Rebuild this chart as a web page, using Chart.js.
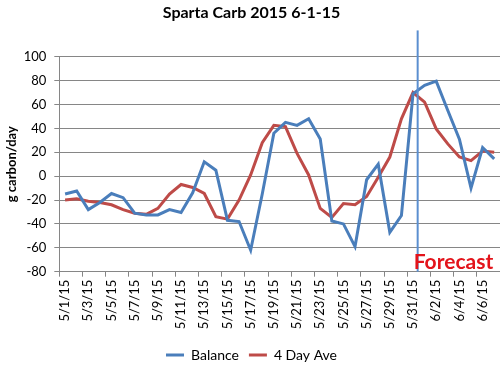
<!DOCTYPE html>
<html>
<head>
<meta charset="utf-8">
<script src="https://cdn.jsdelivr.net/npm/chart.js@4/dist/chart.umd.min.js"></script>
<style>
    body { margin: 0; background: #fff; }
    canvas { display: block; }
</style>
</head>
<body>
<canvas id="lineChart" width="500" height="370"></canvas>
<script>

    var dates = ['5/1/15', '5/2/15', '5/3/15', '5/4/15', '5/5/15', '5/6/15', '5/7/15', '5/8/15', '5/9/15', '5/10/15',
        '5/11/15', '5/12/15', '5/13/15', '5/14/15', '5/15/15', '5/16/15', '5/17/15', '5/18/15', '5/19/15', '5/20/15',
        '5/21/15', '5/22/15', '5/23/15', '5/24/15', '5/25/15', '5/26/15', '5/27/15', '5/28/15', '5/29/15', '5/30/15',
        '5/31/15', '6/1/15', '6/2/15', '6/3/15', '6/4/15', '6/5/15', '6/6/15', '6/7/15'];

    var balance = [-15, -12.5, -28, -22, -14.5, -18, -31, -32.5, -32.5, -28,
        -30.5, -14, 12, 5, -37, -38, -62, -15, 36, 45,
        42.5, 48, 31, -37.5, -40, -59, -3, 10, -47, -33,
        69, 76, 79.5, 55, 31, -10, 24, 14.5];

    var fourDayAve = [-20, -19, -21, -22, -24, -28, -31, -32, -27, -15,
        -7, -9.5, -14.5, -34, -36, -20, 1, 28, 42.5, 41.5,
        19, 1, -27, -34.5, -23, -24, -17, -1, 16, 48,
        70, 62, 39.5, 27, 16, 13, 21, 20];

    var yTicks = {min: -80, max: 100, step: 20};

    // forecast marker sits a bit after 5/31
    var forecastAt = 30.4;
    var forecastTop = 122;
    var forecastLabel = 'Forecast';

    Chart.defaults.font.family = 'Lato, "Open Sans", sans-serif';
    Chart.defaults.color = '#000';

    var forecastPlugin = {
        id: 'forecast',
        afterDatasetsDraw: function (chart) {
            var ctx = chart.ctx;
            var x = chart.scales.x.getPixelForValue(forecastAt);
            var top = chart.scales.y.getPixelForValue(forecastTop);
            var bottom = chart.chartArea.bottom;
            ctx.save();
            ctx.strokeStyle = '#5b8fd0';
            ctx.lineWidth = 2;
            ctx.beginPath();
            ctx.moveTo(x, top);
            ctx.lineTo(x, bottom);
            ctx.stroke();
            ctx.fillStyle = '#e3141b';
            ctx.font = 'bold 21px Lato, "Open Sans", sans-serif';
            ctx.textAlign = 'left';
            ctx.textBaseline = 'bottom';
            ctx.fillText(forecastLabel, x - 4, bottom + 1);
            ctx.restore();
        }
    };

    var lineData = {
        labels: dates,
        datasets: [
            {
                label: 'Balance',
                borderColor: '#4a7ebb',
                backgroundColor: '#4a7ebb',
                borderWidth: 3,
                pointRadius: 0,
                tension: 0,
                data: balance
            }, {
                label: '4 Day Ave',
                borderColor: '#be4b48',
                backgroundColor: '#be4b48',
                borderWidth: 3,
                pointRadius: 0,
                tension: 0,
                data: fourDayAve
            }
        ]
    };

    var lineOptions = {
        responsive: false,
        animation: false,
        layout: {padding: {top: 0, right: -3, bottom: -2, left: 0}},
        plugins: {
            title: {
                display: true,
                text: 'Sparta Carb 2015 6-1-15',
                font: {size: 16, weight: 'bold'},
                color: '#000',
                padding: {top: 3, bottom: 34.5}
            },
            legend: {
                position: 'bottom',
                labels: {
                    usePointStyle: true,
                    pointStyle: 'line',
                    pointStyleWidth: 18,
                    font: {size: 14},
                    color: '#000',
                    padding: 10
                }
            },
            tooltip: {enabled: false}
        },
        scales: {
            x: {
                offset: true,
                afterFit: function (s) {
                    s.height = 66.3;
                    s.paddingLeft = 0;
                    s.paddingRight = -3;
                },
                grid: {
                    offset: true,
                    drawOnChartArea: false,
                    drawTicks: true,
                    tickLength: 5,
                    color: function (c) { return c.index % 2 === 0 ? '#868686' : 'rgba(0,0,0,0)'; }
                },
                border: {display: true, color: '#868686'},
                ticks: {
                    autoSkip: false,
                    minRotation: 90,
                    maxRotation: 90,
                    padding: 3,
                    font: {size: 13},
                    color: '#000',
                    callback: function (value, index) {
                        return index % 2 === 0 ? this.getLabelForValue(value) : '';
                    }
                }
            },
            y: {
                min: yTicks.min,
                max: yTicks.max,
                afterFit: function (s) {
                    s.width = 59.3;
                    s.paddingRight = -3;
                },
                grid: {color: '#868686', tickLength: 5},
                border: {display: true, color: '#868686'},
                ticks: {
                    stepSize: yTicks.step,
                    padding: 8,
                    font: {size: 13},
                    color: '#000'
                },
                title: {
                    display: true,
                    text: 'g carbon/day',
                    font: {size: 13, weight: 'bold'},
                    color: '#000',
                    padding: {top: 4, bottom: 4}
                }
            }
        }
    };

    var ctx = document.getElementById('lineChart').getContext('2d');
    new Chart(ctx, {type: 'line', data: lineData, options: lineOptions, plugins: [forecastPlugin]});

</script>
</body>
</html>
